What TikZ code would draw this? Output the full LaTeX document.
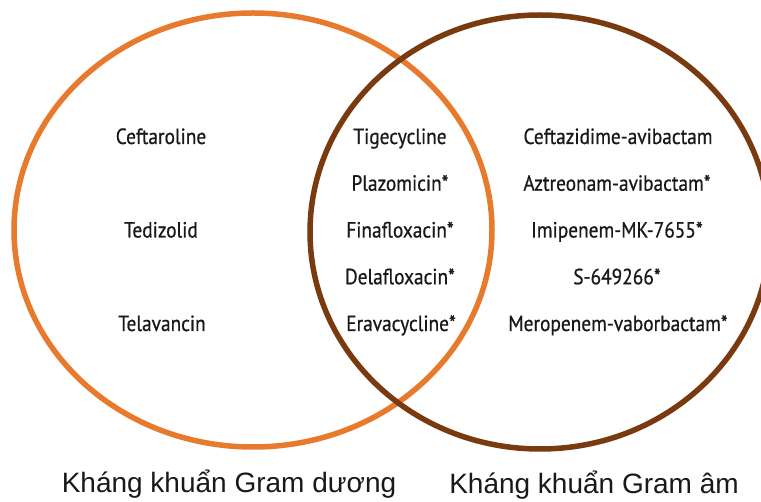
\documentclass[tikz,border=0pt]{standalone}
\usepackage{fontspec}
\setmainfont{Liberation Sans}
\newfontfamily\drugfont[FakeStretch=0.88,FakeBold=0.6]{PT Sans}
\definecolor{gramPos}{RGB}{232,122,46}
\definecolor{gramNeg}{RGB}{122,58,16}
\begin{document}
\begin{tikzpicture}[x=1pt,y=-1pt,
  ring/.style={line width=5.5pt},
  drug/.style={anchor=base,inner sep=0pt,text=black!90,font=\drugfont\fontsize{22}{26}\selectfont},
  setlabel/.style={anchor=base,inner sep=0pt,text=black!90,font=\fontsize{28}{32}\selectfont}]
  \useasboundingbox (0,0) rectangle (761,502);
  \clip (0,0) rectangle (761,502);
  \fill[white] (0,0) rectangle (761,502);

  % the two sets
  \draw[ring,gramPos] (253,230) ellipse [x radius=239pt, y radius=217pt];
  \draw[ring,gramNeg] (540,232) ellipse [x radius=230pt, y radius=217pt];

  % Gram-positive only
  \node[drug] (ceftaroline) at (161,144)    {Ceftaroline};
  \node[drug] (tedizolid)   at (161,237.5)  {Tedizolid};
  \node[drug] (telavancin)  at (162,331)    {Telavancin};

  % both
  \node[drug] (tigecycline)  at (400,144)    {Tigecycline};
  \node[drug] (plazomicin)   at (400,190.75) {Plazomicin*};
  \node[drug] (finafloxacin) at (400,237.5)  {Finafloxacin*};
  \node[drug] (delafloxacin) at (400,284.25) {Delafloxacin*};
  \node[drug] (eravacycline) at (401,331)    {Eravacycline*};

  % Gram-negative only
  \node[drug] (ceftazidime) at (618,144)    {Ceftazidime-avibactam};
  \node[drug] (aztreonam)   at (617,190.75) {Aztreonam-avibactam*};
  \node[drug] (imipenem)    at (617,237.5)  {Imipenem-MK-7655*};
  \node[drug] (s649266)     at (617,284.25) {S-649266*};
  \node[drug] (meropenem)   at (618,331)    {Meropenem-vaborbactam*};

  % set captions
  \node[setlabel] (posLabel) at (229,493) {Kháng khuẩn Gram dương};
  \node[setlabel] (negLabel) at (594,494) {Kháng khuẩn Gram âm};
\end{tikzpicture}
\end{document}
